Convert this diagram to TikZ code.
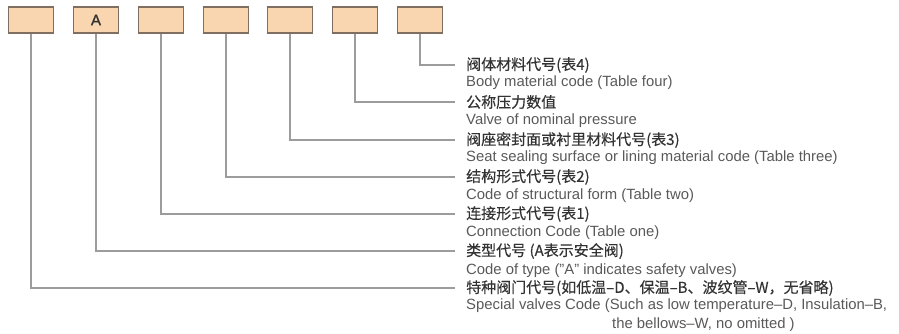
\documentclass[tikz,border=0pt]{standalone}
\usepackage{fontspec}
\setmainfont{Liberation Sans}
\newfontfamily\cjk[FakeBold=0.3]{Noto Sans CJK SC}
\definecolor{boxfill}{HTML}{FAD6B0}
\definecolor{boxline}{HTML}{7F6F60}
\definecolor{connline}{HTML}{9C9C9C}
\definecolor{cntext}{HTML}{333333}
\definecolor{entext}{HTML}{595959}
\begin{document}
\begin{tikzpicture}[x=1pt,y=-1pt,
  codebox/.style={draw=boxline,fill=boxfill,line width=1.2pt,minimum width=45pt,minimum height=26pt,inner sep=0pt,font=\fontsize{15pt}{16pt}\selectfont,text=cntext},
  cn/.style={anchor=west,inner sep=0pt,text=cntext,font=\cjk\fontsize{15pt}{16pt}\selectfont},
  en/.style={anchor=west,inner sep=0pt,text=entext,font=\fontsize{14.85pt}{16pt}\selectfont},
  conn/.style={draw=connline,line width=1.2pt}]
\useasboundingbox (0,0) rectangle (899,333);
\node[codebox] (b1) at (31,20) {};
\node[codebox] (b2) at (96,20) {\addfontfeature{FakeBold=1.5}A};
\node[codebox] (b3) at (161,20) {};
\node[codebox] (b4) at (226,20) {};
\node[codebox] (b5) at (290,20) {};
\node[codebox] (b6) at (355,20) {};
\node[codebox] (b7) at (420,20) {};
% labels
\node[cn] (c7) at (466,65) {阀体材料代号(表4)};
\node[en] (e7) at (466,83) {Body material code (Table four)};
\node[cn] (c6) at (466,102) {公称压力数值};
\node[en] (e6) at (466,121) {Valve of nominal pressure};
\node[cn] (c5) at (466,140) {阀座密封面或衬里材料代号(表3)};
\node[en] (e5) at (466,158) {Seat sealing surface or lining material code (Table three)};
\node[cn] (c4) at (466,177) {结构形式代号(表2)};
\node[en] (e4) at (466,196) {Code of structural form (Table two)};
\node[cn] (c3) at (466,214) {连接形式代号(表1)};
\node[en] (e3) at (466,233) {Connection Code (Table one)};
\node[cn] (c2) at (466,251) {类型代号 (A表示安全阀)};
\node[en] (e2) at (466,271) {Code of type ("A" indicates safety valves)};
\node[cn] (c1) at (466,288) {特种阀门代号(如低温–D、保温–B、波纹管–W，无省略)};
\node[en] (e1) at (466,306) {Special valves Code (Such as low temperature–D, Insulation–B,};
\node[en] (e0) at (612,325) {the bellows–W, no omitted )};
% connectors
\foreach \i in {1,...,7}{
  \draw[conn] (b\i.south) |- ([xshift=-11pt]c\i.west);
}
\end{tikzpicture}
\end{document}
